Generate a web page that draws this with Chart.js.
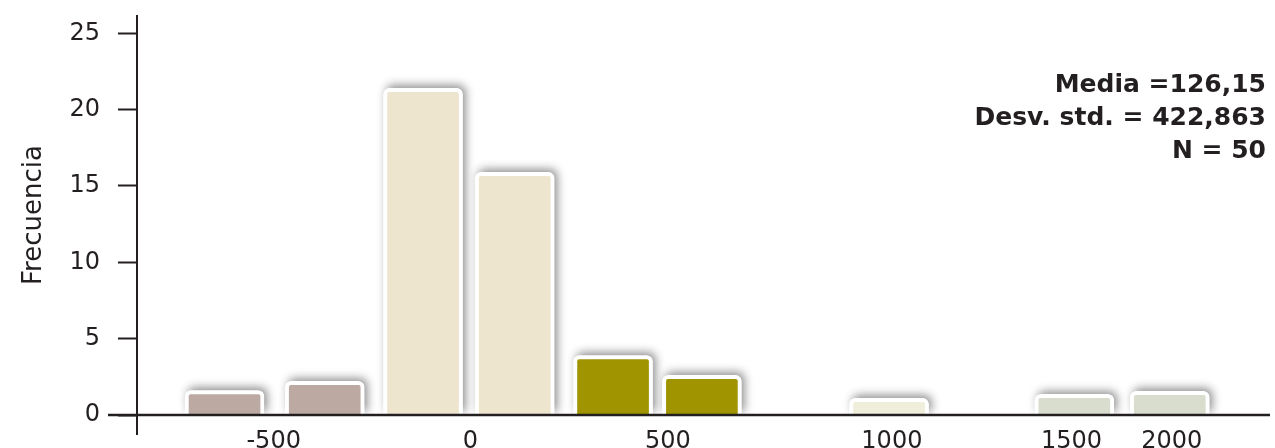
<!DOCTYPE html>
<html>
<head>
<meta charset="utf-8">
<script src="https://cdn.jsdelivr.net/npm/chart.js@4"></script>
<style>
  html, body { margin: 0; padding: 0; background: #fff; }
  .container { width: 1275px; height: 448px; }
</style>
</head>
<body>
<div class="container"><canvas id="myChart"></canvas></div>
<script>
// bar positions along the x axis, in bar slots
const binAt = [0, 1.06, 2.1, 3.07, 4.11, 5.05, 7.03, 8.99, 10.0];
const frequency = [1.6, 2.2, 21.4, 15.9, 3.9, 2.6, 1.1, 1.35, 1.55];
const barColors = ["#bca9a2", "#bca9a2", "#eee5cf", "#eee5cf", "#a09400", "#a09400", "#efeeda", "#d8ddcd", "#d8ddcd"];
// the x labels sit where the original put them (not evenly spaced)
const xTickAt = [0.52, 2.6, 4.69, 7.06, 8.96, 10.02];
const xTickLabels = ["-500", "0", "500", "1000", "1500", "2000"];
const yTicks = [0, 5, 10, 15, 20, 25];
const stats = ["Media =126,15", "Desv. std. = 422,863", "N = 50"];

const ink = "#231f20";
const font = {family: "'DejaVu Sans', sans-serif", size: 24};

// white card + soft shadow behind every bar
const shadowPlugin = {
    id: "barShadow",
    beforeDatasetsDraw(chart) {
        const {ctx, chartArea} = chart;
        ctx.save();
        ctx.beginPath();
        ctx.rect(0, 0, chart.width, chartArea.bottom);
        ctx.clip();
        ctx.shadowColor = "rgba(0,0,0,0.45)";
        ctx.shadowBlur = 10;
        ctx.shadowOffsetX = 3;
        ctx.shadowOffsetY = -3;
        ctx.fillStyle = "#fff";
        chart.getDatasetMeta(0).data.forEach(bar => {
            const {x, y, base, width} = bar.getProps(["x", "y", "base", "width"], true);
            ctx.beginPath();
            ctx.roundRect(x - width / 2, y, width, base - y, [6, 6, 0, 0]);
            ctx.fill();
        });
        ctx.restore();
    }
};

// axis lines (they run past the plot area) and the stats box
const axesPlugin = {
    id: "axes",
    afterDatasetsDraw(chart) {
        const {ctx, chartArea, scales} = chart;
        const y0 = scales.y.getPixelForValue(0);
        ctx.save();
        ctx.strokeStyle = ink;
        ctx.lineWidth = 2;
        ctx.beginPath();
        ctx.moveTo(chartArea.left, chartArea.top);
        ctx.lineTo(chartArea.left, chartArea.bottom + 20);
        ctx.stroke();
        ctx.lineWidth = 2.5;
        ctx.beginPath();
        ctx.moveTo(chartArea.left - 29, y0);
        ctx.lineTo(chartArea.right, y0);
        ctx.stroke();

        ctx.font = "bold 25px 'DejaVu Sans', sans-serif";
        ctx.textAlign = "right";
        ctx.textBaseline = "alphabetic";
        ctx.fillStyle = ink;
        stats.forEach((t, i) => ctx.fillText(t, chartArea.right - 4, 92 + i * 33));
        ctx.restore();
    }
};

new Chart(document.getElementById("myChart"), {
    type: "bar",
    data: {
        datasets: [
            {
                label: "Frecuencia",
                data: binAt.map((x, i) => ({x: x, y: frequency[i]})),
                backgroundColor: barColors,
                borderColor: "#ffffff",
                borderWidth: 4,
                borderSkipped: "start",
                borderRadius: 6,
                barThickness: 79
            }
        ]
    },
    options: {
        responsive: true,
        maintainAspectRatio: false,
        animation: false,
        layout: {padding: {top: 15, right: 5, left: 0, bottom: 0}},
        plugins: {
            legend: {display: false},
            tooltip: {enabled: false}
        },
        scales: {
            x: {
                type: "linear",
                offset: false,
                min: -0.926,
                max: 11.06,
                grid: {display: false},
                border: {display: false},
                afterBuildTicks: s => { s.ticks = xTickAt.map(v => ({value: v})); },
                afterFit: s => { s.height = 33; s.paddingLeft = 0; s.paddingRight = 0; },
                ticks: {
                    padding: 4,
                    color: ink,
                    font: font,
                    autoSkip: false,
                    maxRotation: 0,
                    callback: (v, i) => xTickLabels[i]
                }
            },
            y: {
                min: 0,
                max: 26.2,
                afterBuildTicks: s => { s.ticks = yTicks.map(v => ({value: v})); },
                afterFit: s => { s.width = 137; s.paddingTop = 0; s.paddingBottom = 0; },
                grid: {drawOnChartArea: false, drawTicks: true, tickLength: 19, tickColor: ink, tickWidth: 2},
                border: {display: false},
                ticks: {padding: 18, color: ink, font: font},
                title: {
                    display: true,
                    text: "Frecuencia",
                    color: ink,
                    font: {family: "'DejaVu Sans', sans-serif", size: 26},
                    padding: {top: 19, bottom: 0}
                }
            }
        }
    },
    plugins: [shadowPlugin, axesPlugin]
});
</script>
</body>
</html>
